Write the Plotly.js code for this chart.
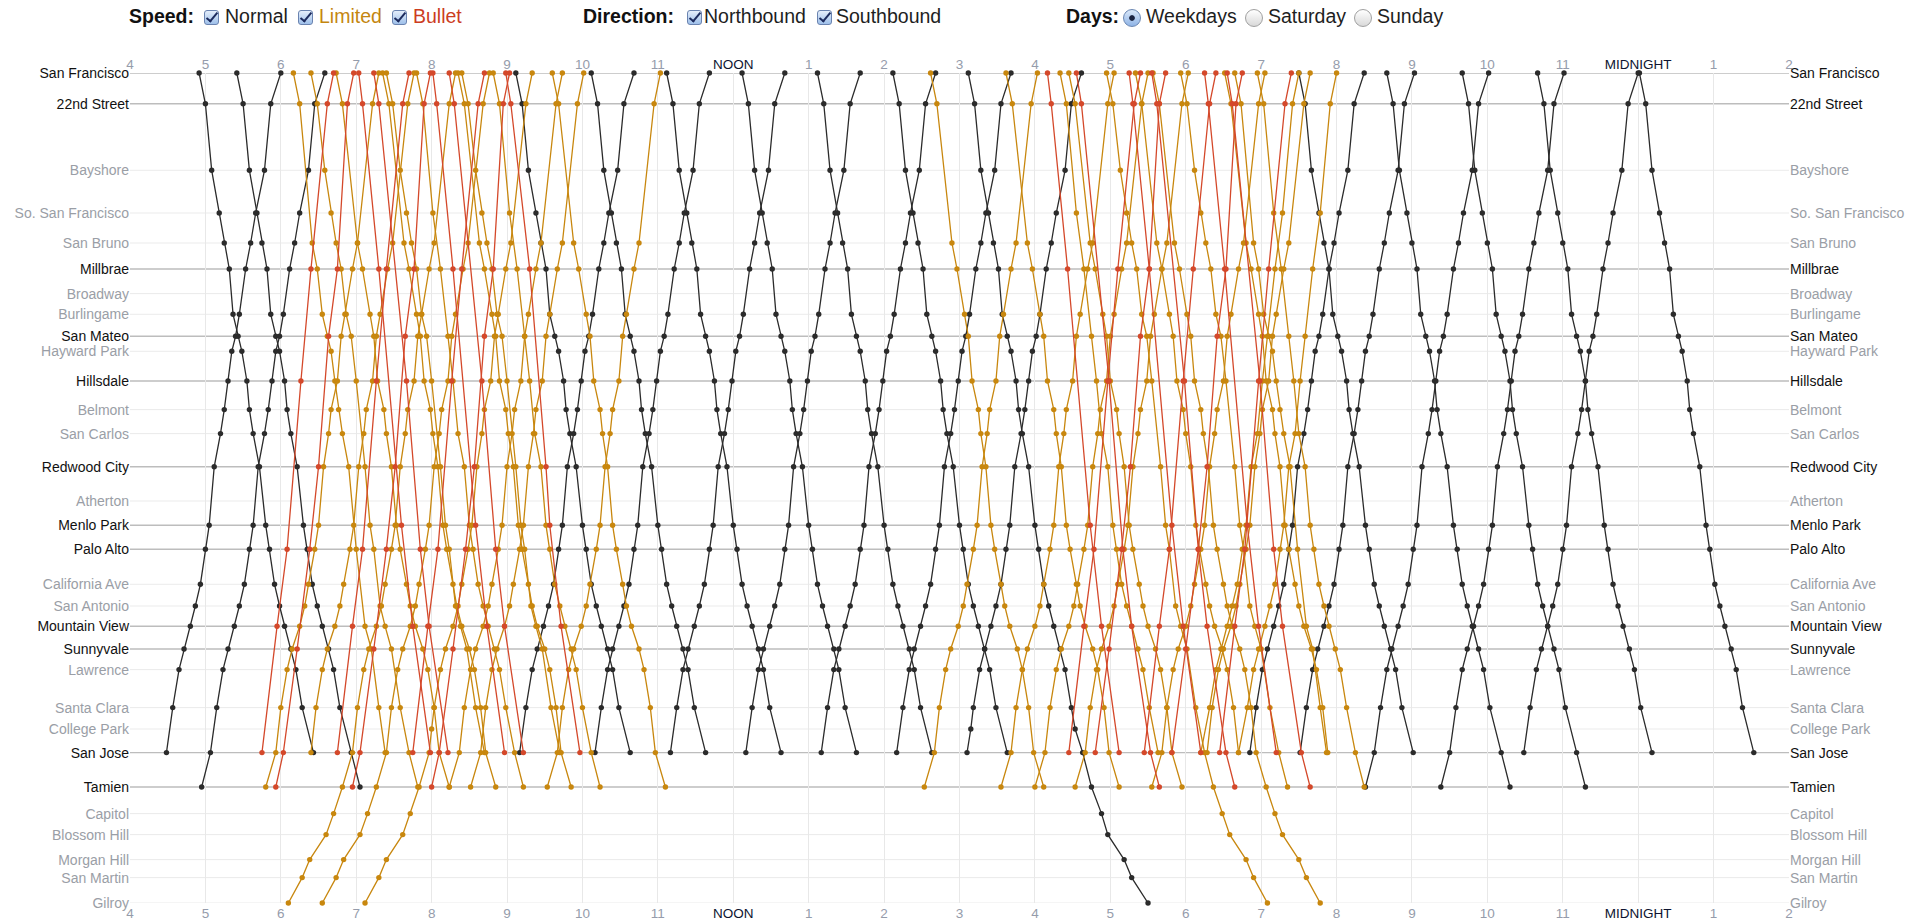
<!DOCTYPE html>
<html>
<head>
<meta charset="utf-8">
<script src="https://cdn.plot.ly/plotly-3.0.1.min.js"></script>
<style>
html,body{margin:0;padding:0;background:#fff;}
#wrap{position:relative;width:1929px;height:919px;overflow:hidden;}
#chart{position:absolute;left:0;top:0;width:1929px;height:919px;}
.h{position:absolute;top:4px;line-height:24px;font-size:19.5px;white-space:nowrap;color:#1e1e1e;font-family:"Liberation Sans",Arial,sans-serif;z-index:5;}
.b{font-weight:bold;color:#111;}
.cb{position:absolute;top:10px;width:15px;height:15px;border:1px solid #6a83b0;border-radius:3px;background:linear-gradient(#e4eefb,#9fc0ea);box-sizing:border-box;z-index:5;}
.cb i{position:absolute;left:4px;top:-1px;width:4px;height:10px;border:solid #1c2b5e;border-width:0 2.5px 2.5px 0;transform:rotate(40deg);}
.rd{position:absolute;top:9px;width:18px;height:18px;border-radius:50%;border:1px solid #a0a0a0;background:linear-gradient(#ffffff,#d9d9d9);box-sizing:border-box;z-index:5;}
.rd.on{border-color:#6a86b2;background:radial-gradient(circle,#1b2340 0,#1b2340 2.4px,rgba(0,0,0,0) 3.2px),linear-gradient(#dbe8f9,#8fb4e6);}
</style>
</head>
<body>
<div id="wrap">
<div id="chart"></div>
<span class="h b" style="left:129px">Speed:</span>
<span class="cb" style="left:204px"><i></i></span><span class="h" style="left:225px">Normal</span>
<span class="cb" style="left:298px"><i></i></span><span class="h" style="left:319px;color:#c4860f">Limited</span>
<span class="cb" style="left:392px"><i></i></span><span class="h" style="left:413px;color:#cc3d1f">Bullet</span>
<span class="h b" style="left:583px">Direction:</span>
<span class="cb" style="left:687px"><i></i></span><span class="h" style="left:704px">Northbound</span>
<span class="cb" style="left:817px"><i></i></span><span class="h" style="left:836px">Southbound</span>
<span class="h b" style="left:1066px">Days:</span>
<span class="rd on" style="left:1123px"></span><span class="h" style="left:1146px">Weekdays</span>
<span class="rd" style="left:1245px"></span><span class="h" style="left:1268px">Saturday</span>
<span class="rd" style="left:1354px"></span><span class="h" style="left:1377px">Sunday</span>
</div>
<script>
// ---------- stations (north to south) and their vertical positions ----------
const stations = ["San Francisco","22nd Street","Bayshore","So. San Francisco","San Bruno","Millbrae","Broadway","Burlingame","San Mateo","Hayward Park","Hillsdale","Belmont","San Carlos","Redwood City","Atherton","Menlo Park","Palo Alto","California Ave","San Antonio","Mountain View","Sunnyvale","Lawrence","Santa Clara","College Park","San Jose","Tamien","Capitol","Blossom Hill","Morgan Hill","San Martin","Gilroy"];
const stationPos = [72.7,103.5,170,212.7,242.7,268.7,293.3,314,336,351,380.7,409.3,433.3,466.5,500.7,525,549,584,605.7,626,648.7,669.3,707.3,728.7,752.3,786.7,813.3,834.3,859.3,877.3,902.7];
const majorStations = ["San Francisco","22nd Street","Millbrae","San Mateo","Hillsdale","Redwood City","Menlo Park","Palo Alto","Mountain View","Sunnyvale","San Jose","Tamien"];

// ---------- time axis ----------
const hourTicks = [4,5,6,7,8,9,10,11,12,13,14,15,16,17,18,19,20,21,22,23,24,25,26];
const hourLabels = ["4","5","6","7","8","9","10","11","NOON","1","2","3","4","5","6","7","8","9","10","11","MIDNIGHT","1","2"];

// ---------- stop patterns: minutes from San Francisco at each station (null = no stop) ----------
const _ = null;
const patLocalSouth   = [0,5,10,16,20,24,_,27,31,34,38,40,43,48,_,53,56,60,64,68,73,77,82,_,91,98,106,111,124,130,143];
const patLocalSouthCP = [0,5,10,16,20,24,_,27,31,34,38,40,43,48,_,53,56,60,64,68,73,77,82,85,91,98,106,111,124,130,143];
const patLocalNorth   = [0,8,13,20,24,28,_,33,36,39,42,45,48,53,_,57,60,64,68,72,77,81,86,_,91,98,107,112,125,131,140];
const patLocalNorthCP = [0,8,13,20,24,28,_,33,36,39,42,45,48,53,_,57,60,64,68,72,77,81,86,88,91,98,107,112,125,131,140];
const patBulletX = [0,5,_,_,_,18,_,_,_,_,26,_,_,_,_,_,37,_,_,45,_,_,_,_,57,64,_,_,_,_,_];
const patBulletY = [0,5,_,_,_,13,_,_,20,_,_,_,_,28,_,_,35,_,_,_,45,_,_,_,56,62,_,_,_,_,_];
const patBulletP = [0,3,_,_,_,16,_,_,_,_,_,_,_,_,_,34,_,_,_,43,_,_,_,_,57,64,_,_,_,_,_];
const patBulletQ = [0,4,_,_,_,_,_,_,_,_,26,_,_,_,_,_,37,_,_,44,_,_,_,_,59,66,_,_,_,_,_];
const patBulletR = [0,4,_,_,_,19,_,_,_,_,_,_,_,32,_,35,_,_,_,44,_,_,_,_,59,66,_,_,_,_,_];
const patLimitedM   = [0,5,_,_,17,21,_,27,30,_,33,38,40,44,_,48,51,56,59,63,69,73,78,_,82,90,97,103,116,122,133];
const patLimitedMCP = [0,5,_,_,17,21,_,27,30,_,33,38,40,44,_,48,51,56,59,63,69,73,78,80,82,90,97,103,116,122,133];
const patLimitedA = [0,5,_,_,15,19,_,23,27,30,33,36,39,44,_,_,50,_,_,57,62,_,68,_,73,81,88,94,107,113,124];
const patLimitedB = [0,5,_,13,_,19,_,_,25,_,29,_,33,38,_,42,45,49,53,57,62,66,71,_,78,85,92,98,111,117,128];
const patLimitedC = [0,5,11,16,20,24,_,28,32,_,36,_,_,43,_,47,50,_,55,59,64,_,71,_,78,85,92,98,111,117,128];

// ---------- trains: [time at San Francisco, pattern, southern end] ----------
const normalSouth = [["4:55","LS","SJ"],["5:25","LS","TAM"],["9:07","LS","SJ"],["10:07","LS","SJ"],["11:07","LS","SJ"],["12:07","LS","SJ"],["13:07","LS","SJ"],["14:07","LS","SJ"],["15:07","LSC","GIL"],["19:30","LS","SJ"],["20:40","LS","TAM"],["21:40","LS","TAM"],["22:40","LS","SJ"],["24:01","LS","SJ"]];
const normalNorth = [["6:00","LN","SJ"],["6:35","LN","TAM"],["10:41","LN","SJ"],["11:41","LN","SJ"],["12:41","LN","SJ"],["13:41","LN","SJ"],["14:41","LN","SJ"],["15:41","LN","SJ"],["16:37","LNC","SJ"],["20:22","LN","SJ"],["21:02","LN","SJ"],["22:01","LN","TAM"],["23:01","LN","TAM"],["24:00","LN","SJ"]];
const limitedSouth = [["6:10","LA","SJ"],["6:24","LC","TAM"],["6:44","LM","TAM"],["7:21","LM","TAM"],["7:24","LC","SJ"],["7:48","LB","TAM"],["8:21","LM","TAM"],["8:24","LC","SJ"],["8:49","LB","TAM"],["9:36","LM","TAM"],["14:37","LM","TAM"],["15:37","LM","TAM"],["16:20","LB","SJ"],["16:27","LM","TAM"],["16:57","LC","GIL"],["17:20","LM","SJ"],["17:34","LM","GIL"],["17:56","LC","TAM"],["18:31","LM","SJ"],["18:39","LA","SJ"],["18:57","LB","TAM"]];
const limitedNorth = [["7:18","LM","TAM"],["7:46","LM","SJ"],["8:19","LM","GIL"],["8:46","LM","GIL"],["9:20","LMC","GIL"],["9:44","LM","TAM"],["10:01","LM","TAM"],["11:02","LM","TAM"],["16:02","LM","TAM"],["17:03","LM","TAM"],["17:30","LM","TAM"],["18:02","LM","TAM"],["19:03","LM","TAM"],["19:30","LB","SJ"],["19:39","LM","SJ"],["20:00","LB","SJ"]];
const bulletSouth = [["7:02","BP","SJ"],["7:14","BQ","SJ"],["8:01","BP","SJ"],["8:14","BQ","SJ"],["8:59","BR","SJ"],["16:10","BP","SJ"],["16:33","BQ","TAM"],["17:15","BP","SJ"],["17:33","BQ","TAM"],["18:15","BP","SJ"],["18:33","BQ","TAM"]];
const bulletNorth = [["6:42","BX","SJ"],["6:58","BY","TAM"],["7:42","BX","SJ"],["7:59","BY","TAM"],["8:42","BX","SJ"],["9:02","BY","TAM"],["17:24","BX","SJ"],["17:44","BY","SJ"],["18:24","BX","SJ"],["18:45","BY","SJ"],["19:24","BX","SJ"]];

// ---------- colours ----------
const colNormal = "#2b2b2b", colLimited = "#c8870e", colBullet = "#d4482a";

// ---------- build ----------
const patterns = {LS:patLocalSouth, LSC:patLocalSouthCP, LN:patLocalNorth, LNC:patLocalNorthCP, BX:patBulletX, BY:patBulletY, BP:patBulletP, BQ:patBulletQ, BR:patBulletR, LM:patLimitedM, LMC:patLimitedMCP, LA:patLimitedA, LB:patLimitedB, LC:patLimitedC};
const lastIndex = {SJ:stations.indexOf("San Jose"), TAM:stations.indexOf("Tamien"), GIL:stations.indexOf("Gilroy")};
function toHours(s){const p=s.split(":").map(Number);return p[0]+p[1]/60;}
function trainTrace(t, dir, color){
  const base = toHours(t[0]), pat = patterns[t[1]], last = lastIndex[t[2]];
  const xs = [], ys = [];
  for (let i = 0; i <= last; i++) {
    const o = pat[i];
    if (o === null || o === undefined) continue;
    xs.push(dir === "S" ? base + o/60 : base - o/60);
    ys.push(stationPos[i]);
  }
  return {type:"scatter", mode:"lines+markers", x:xs, y:ys, xaxis:"x", yaxis:"y",
    line:{color:color, width:1.3}, marker:{color:color, size:5.4, line:{width:0}},
    hoverinfo:"skip", showlegend:false, cliponaxis:false};
}
const traces = [];
normalSouth.forEach(t=>traces.push(trainTrace(t,"S",colNormal)));
normalNorth.forEach(t=>traces.push(trainTrace(t,"N",colNormal)));
limitedSouth.forEach(t=>traces.push(trainTrace(t,"S",colLimited)));
limitedNorth.forEach(t=>traces.push(trainTrace(t,"N",colLimited)));
bulletSouth.forEach(t=>traces.push(trainTrace(t,"S",colBullet)));
bulletNorth.forEach(t=>traces.push(trainTrace(t,"N",colBullet)));
// carrier trace for the top / right axes
traces.push({type:"scatter", mode:"markers", x:[null], y:[null], xaxis:"x2", yaxis:"y2", hoverinfo:"skip", showlegend:false});

const stationText = stations.map(s => majorStations.includes(s) ? '<span style="color:#111">'+s+'</span>' : '<span style="color:#9a9ea6">'+s+'</span>');
const hourText = hourLabels.map(h => (h==="NOON"||h==="MIDNIGHT") ? '<span style="color:#0d1430">'+h+'</span>' : '<span style="color:#959cab">'+h+'</span>');

const shapes = stations.map((s,i)=>({type:"line", xref:"paper", x0:0, x1:1, yref:"y", y0:stationPos[i], y1:stationPos[i],
  line:{color: majorStations.includes(s) ? "#bdbdbd" : "#ebebeb", width: majorStations.includes(s) ? 1.4 : 1}, layer:"below"}));

const fontFam = '"Liberation Sans", Arial, Helvetica, sans-serif';
const xCommon = {range:[4,26], tickmode:"array", tickvals:hourTicks, ticktext:hourText, ticks:"", zeroline:false, showline:false, fixedrange:true, tickfont:{family:fontFam, size:13.5}};
const yCommon = {range:[stationPos[stationPos.length-1], stationPos[0]], tickmode:"array", tickvals:stationPos, ticktext:stationText, ticks:"", zeroline:false, showline:false, showgrid:false, fixedrange:true, tickfont:{family:fontFam, size:14}};

const layout = {
  width:1929, height:919,
  margin:{l:130, r:140, t:72.7, b:16.3, pad:0},
  paper_bgcolor:"#ffffff", plot_bgcolor:"#ffffff",
  showlegend:false, hovermode:false,
  font:{family:fontFam, size:14, color:"#222"},
  xaxis:Object.assign({}, xCommon, {side:"bottom", showgrid:true, gridcolor:"#e8e8e8", gridwidth:1}),
  xaxis2:Object.assign({}, xCommon, {side:"top", overlaying:"x", showgrid:false}),
  yaxis:Object.assign({}, yCommon, {side:"left"}),
  yaxis2:Object.assign({}, yCommon, {side:"right", overlaying:"y"}),
  shapes:shapes
};
Plotly.newPlot("chart", traces, layout, {staticPlot:true, displayModeBar:false});
</script>
</body>
</html>
